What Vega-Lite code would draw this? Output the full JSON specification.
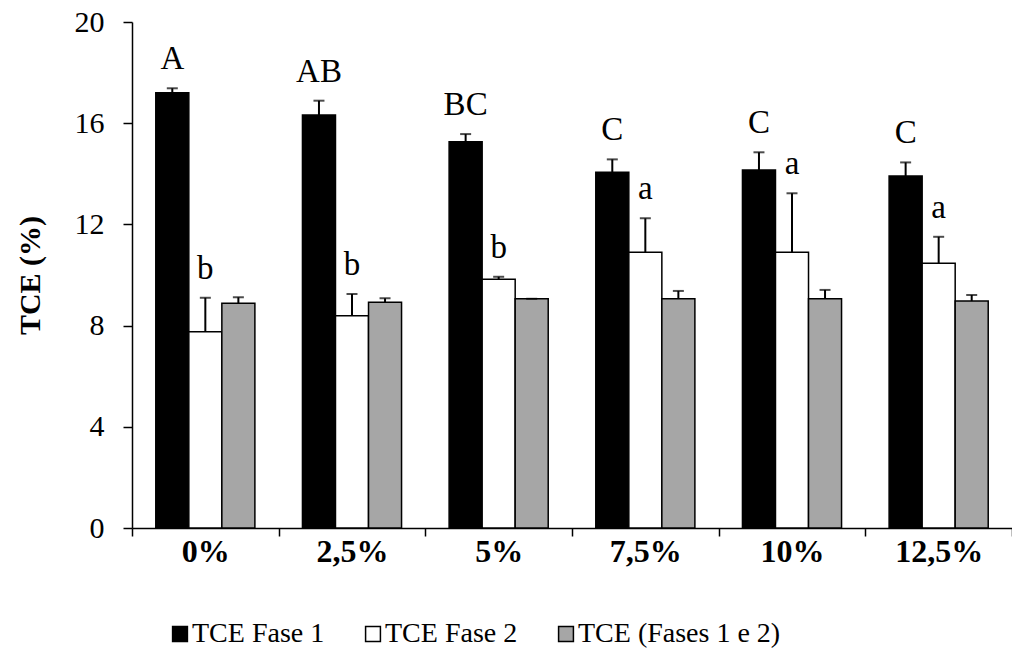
{
  "$schema": "https://vega.github.io/schema/vega-lite/v6.json",
  "autosize": {"type": "none"},
  "padding": {"left": 132, "top": 22, "right": 0, "bottom": 131},
  "width": 880,
  "height": 506,
  "background": "white",
  "config": {
    "view": {"stroke": null},
    "font": "Liberation Serif",
    "axis": {"labelFont": "Liberation Serif", "titleFont": "Liberation Serif", "labelColor": "black", "titleColor": "black", "domainColor": "black", "tickColor": "black", "domainWidth": 1.5, "tickWidth": 1.5, "grid": false},
    "legend": {"labelFont": "Liberation Serif"}
  },
  "data": {
    "values": [
      {"cat": "0%", "serie": "TCE Fase 1", "value": 17.2, "err": 17.38, "label": "A"},
      {"cat": "2,5%", "serie": "TCE Fase 1", "value": 16.32, "err": 16.89, "label": "AB"},
      {"cat": "5%", "serie": "TCE Fase 1", "value": 15.27, "err": 15.57, "label": "BC"},
      {"cat": "7,5%", "serie": "TCE Fase 1", "value": 14.06, "err": 14.57, "label": "C"},
      {"cat": "10%", "serie": "TCE Fase 1", "value": 14.15, "err": 14.85, "label": "C"},
      {"cat": "12,5%", "serie": "TCE Fase 1", "value": 13.91, "err": 14.45, "label": "C"},
      {"cat": "0%", "serie": "TCE Fase 2", "value": 7.76, "err": 9.1, "label": "b"},
      {"cat": "2,5%", "serie": "TCE Fase 2", "value": 8.39, "err": 9.25, "label": "b"},
      {"cat": "5%", "serie": "TCE Fase 2", "value": 9.83, "err": 9.93, "label": "b"},
      {"cat": "7,5%", "serie": "TCE Fase 2", "value": 10.9, "err": 12.24, "label": "a"},
      {"cat": "10%", "serie": "TCE Fase 2", "value": 10.9, "err": 13.23, "label": "a"},
      {"cat": "12,5%", "serie": "TCE Fase 2", "value": 10.46, "err": 11.51, "label": "a"},
      {"cat": "0%", "serie": "TCE (Fases 1 e 2)", "value": 8.88, "err": 9.12, "label": ""},
      {"cat": "2,5%", "serie": "TCE (Fases 1 e 2)", "value": 8.92, "err": 9.08, "label": ""},
      {"cat": "5%", "serie": "TCE (Fases 1 e 2)", "value": 9.06, "err": 9.06, "label": ""},
      {"cat": "7,5%", "serie": "TCE (Fases 1 e 2)", "value": 9.06, "err": 9.37, "label": ""},
      {"cat": "10%", "serie": "TCE (Fases 1 e 2)", "value": 9.06, "err": 9.41, "label": ""},
      {"cat": "12,5%", "serie": "TCE (Fases 1 e 2)", "value": 8.97, "err": 9.21, "label": ""}
    ]
  },
  "encoding": {
    "x": {
      "field": "cat", "type": "nominal", "sort": ["0%", "2,5%", "5%", "7,5%", "10%", "12,5%"],
      "scale": {"paddingInner": 0, "paddingOuter": 0},
      "axis": {"title": null, "labelAngle": 0, "labelFontSize": 32, "labelFontWeight": "bold", "labelPadding": 0, "tickBand": "extent", "tickSize": 8}
    },
    "xOffset": {
      "field": "serie", "type": "nominal", "sort": ["TCE Fase 1", "TCE Fase 2", "TCE (Fases 1 e 2)"],
      "scale": {"paddingInner": 0, "paddingOuter": 0.72}
    }
  },
  "layer": [
    {
      "mark": {"type": "bar", "stroke": "black", "strokeWidth": 1.5},
      "encoding": {
        "y": {
          "field": "value", "type": "quantitative",
          "scale": {"domain": [0, 20], "nice": false},
          "axis": {"values": [0, 4, 8, 12, 16, 20], "labelFontSize": 30, "tickSize": 9, "labelPadding": 19, "title": "TCE (%)", "titleFontSize": 30, "titleFontWeight": "bold", "titlePadding": 29}
        },
        "color": {
          "field": "serie", "type": "nominal",
          "scale": {"domain": ["TCE Fase 1", "TCE Fase 2", "TCE (Fases 1 e 2)"], "range": ["#000000", "#ffffff", "#a6a6a6"]},
          "legend": {
            "title": null, "orient": "none", "direction": "horizontal", "legendX": 34, "legendY": 598,
            "symbolType": "square", "symbolSize": 220, "symbolStrokeColor": "black", "symbolStrokeWidth": 1.5, "symbolOpacity": 1,
            "labelFontSize": 28, "labelColor": "black", "labelOffset": -2, "labelLimit": 400, "columnPadding": 34
          }
        }
      }
    },
    {
      "mark": {"type": "rule", "color": "black", "strokeWidth": 2},
      "encoding": {
        "y": {"field": "value", "type": "quantitative"},
        "y2": {"field": "err"}
      }
    },
    {
      "mark": {"type": "tick", "color": "black", "thickness": 2, "size": 11},
      "encoding": {
        "y": {"field": "err", "type": "quantitative"}
      }
    },
    {
      "mark": {"type": "text", "fontSize": 33, "color": "black", "baseline": "alphabetic", "dy": -19},
      "encoding": {
        "y": {"field": "err", "type": "quantitative"},
        "text": {"field": "label"}
      }
    }
  ]
}
